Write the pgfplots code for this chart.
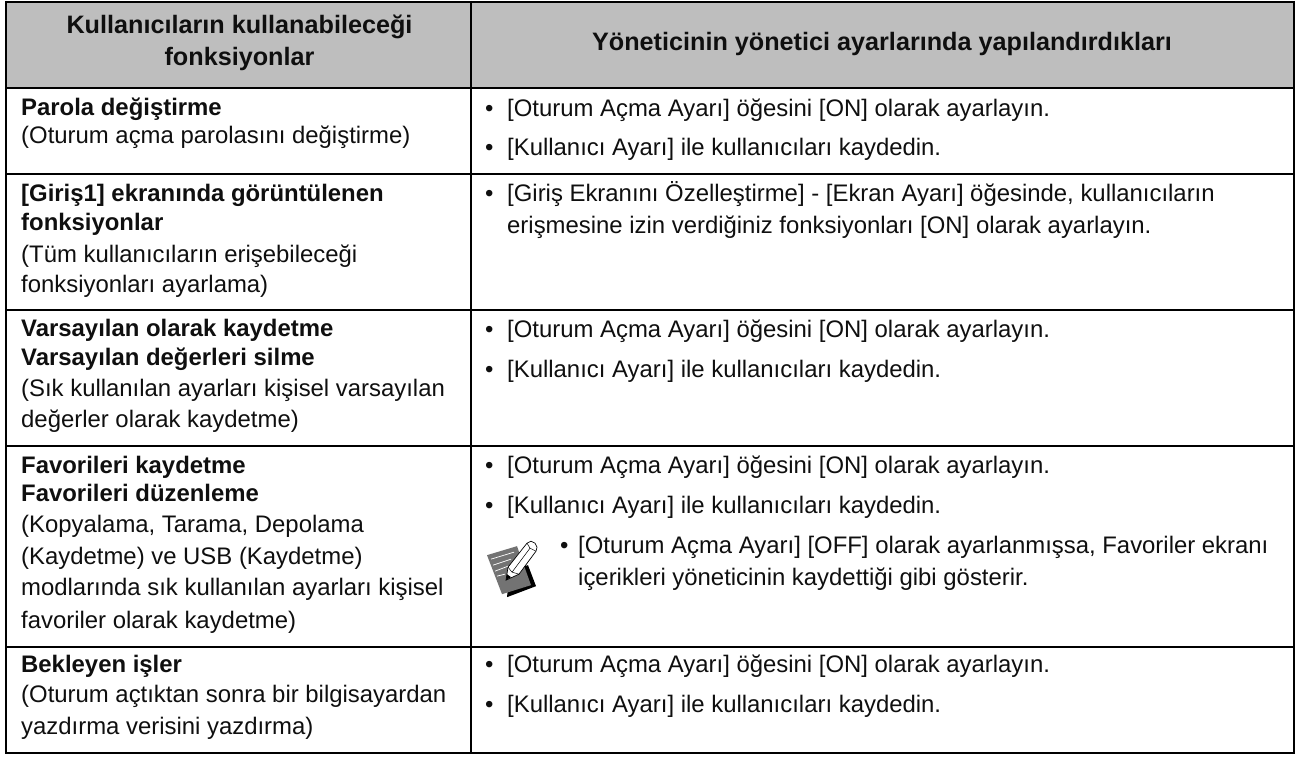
\documentclass[border=0pt]{standalone}
\usepackage{fontspec}
\setmainfont{Liberation Sans}
\usepackage{pgfplots}
\pgfplotsset{compat=1.18}
\definecolor{hdr}{RGB}{190,190,190}
\definecolor{ink}{RGB}{15,15,15}
\definecolor{pap}{RGB}{115,115,115}
\newcommand{\fs}{\fontsize{23.9}{28}\selectfont}
\newcommand{\T}[3]{\node[anchor=base west,inner sep=0pt,text=ink,font=\fs] at (axis cs:#1,#2) {#3};}
\newcommand{\B}[3]{\node[anchor=base west,inner sep=0pt,text=ink,font=\fs\bfseries] at (axis cs:#1,#2) {#3};}
\newcommand{\C}[3]{\node[anchor=base,inner sep=0pt,text=ink,font=\fontsize{25.2}{28}\selectfont\bfseries] at (axis cs:#1,#2) {#3};}
\newcommand{\Bul}[2]{\T{485}{#2}{•}\T{507}{#2}{#1}}
\begin{document}
\begin{tikzpicture}
\begin{axis}[scale only axis,width=1303pt,height=756pt,xmin=0,xmax=1303,ymin=0,ymax=756,y dir=reverse,hide axis,clip=false]
\addplot[draw=none,fill=white] coordinates {(0,0)(1303,0)(1303,756)(0,756)} -- cycle;
\addplot[draw=none,fill=hdr] coordinates {(6,2)(1294,2)(1294,88)(6,88)} -- cycle;
% table rules
\addplot[black,line width=1.7pt] coordinates {(6,1.5)(1294,1.5)};
\addplot[black,line width=1.7pt] coordinates {(6,88)(1294,88)};
\addplot[black,line width=1.7pt] coordinates {(6,174)(1294,174)};
\addplot[black,line width=1.7pt] coordinates {(6,310)(1294,310)};
\addplot[black,line width=1.7pt] coordinates {(6,446)(1294,446)};
\addplot[black,line width=1.7pt] coordinates {(6,647)(1294,647)};
\addplot[black,line width=1.7pt] coordinates {(6,753)(1294,753)};
\addplot[black,line width=1.7pt] coordinates {(6,0.7)(6,753.8)};
\addplot[black,line width=1.7pt] coordinates {(471,0.7)(471,753.8)};
\addplot[black,line width=1.7pt] coordinates {(1294,0.7)(1294,753.8)};
% icon
\addplot[draw=none,fill=black] coordinates {(507,597)(536,586)(528,565)(510,570)} -- cycle;
\addplot[draw=none,fill=pap] coordinates {(487,555)(517,546)(531,585)(502,594)} -- cycle;
\addplot[white,line width=0.7pt] coordinates {(491,559)(514,552)};
\addplot[white,line width=0.7pt] coordinates {(493,565)(511,559)};
\addplot[white,line width=0.7pt] coordinates {(495,571)(508,566)};
\addplot[white,line width=0.7pt] coordinates {(497,576)(505,574)};
\addplot[black,fill=white,line width=0.7pt] coordinates {(506,580)(508,567)(527,543)(531,541)(535,543)(537,547)(536,551)(519,574)} -- cycle;
\addplot[draw=none,fill=black] coordinates {(506,580)(507,574)(511,577)} -- cycle;
\addplot[black,line width=0.5pt] coordinates {(527,543)(530,548)(536,551)};
\addplot[black,line width=0.5pt] coordinates {(508,567)(512,572)(519,574)};
\addplot[black,line width=0.5pt] coordinates {(512,572)(530,548)};
% header
\C{239.5}{33}{Kullanıcıların kullanabileceği}
\C{239.5}{65}{fonksiyonlar}
\C{882}{50}{Yöneticinin yönetici ayarlarında yapılandırdıkları}
% row 1
\B{21}{115}{Parola değiştirme}
\T{21}{143}{(Oturum açma parolasını değiştirme)}
\Bul{[Oturum Açma Ayarı] öğesini [ON] olarak ayarlayın.}{116}
\Bul{[Kullanıcı Ayarı] ile kullanıcıları kaydedin.}{155}
% row 2
\B{21}{201.5}{[Giriş1] ekranında görüntülenen}
\B{21}{230}{fonksiyonlar}
\T{21}{262.5}{(Tüm kullanıcıların erişebileceği}
\T{21}{292}{fonksiyonları ayarlama)}
\Bul{[Giriş Ekranını Özelleştirme] - [Ekran Ayarı] öğesinde, kullanıcıların}{201.5}
\T{507}{233}{erişmesine izin verdiğiniz fonksiyonları [ON] olarak ayarlayın.}
% row 3
\B{21}{336}{Varsayılan olarak kaydetme}
\B{21}{365}{Varsayılan değerleri silme}
\T{21}{396}{(Sık kullanılan ayarları kişisel varsayılan}
\T{21}{427}{değerler olarak kaydetme)}
\Bul{[Oturum Açma Ayarı] öğesini [ON] olarak ayarlayın.}{337}
\Bul{[Kullanıcı Ayarı] ile kullanıcıları kaydedin.}{377}
% row 4
\B{21}{473}{Favorileri kaydetme}
\B{21}{501}{Favorileri düzenleme}
\T{21}{532}{(Kopyalama, Tarama, Depolama}
\T{21}{564}{(Kaydetme) ve USB (Kaydetme)}
\T{21}{595}{modlarında sık kullanılan ayarları kişisel}
\T{21}{628}{favoriler olarak kaydetme)}
\Bul{[Oturum Açma Ayarı] öğesini [ON] olarak ayarlayın.}{473}
\Bul{[Kullanıcı Ayarı] ile kullanıcıları kaydedin.}{513}
\T{560}{553}{•}
\T{578}{553}{[Oturum Açma Ayarı] [OFF] olarak ayarlanmışsa, Favoriler ekranı}
\T{578}{585}{içerikleri yöneticinin kaydettiği gibi gösterir.}
% row 5
\B{21}{672}{Bekleyen işler}
\T{21}{702}{(Oturum açtıktan sonra bir bilgisayardan}
\T{21}{734}{yazdırma verisini yazdırma)}
\Bul{[Oturum Açma Ayarı] öğesini [ON] olarak ayarlayın.}{672}
\Bul{[Kullanıcı Ayarı] ile kullanıcıları kaydedin.}{712}
\end{axis}
\end{tikzpicture}
\end{document}
